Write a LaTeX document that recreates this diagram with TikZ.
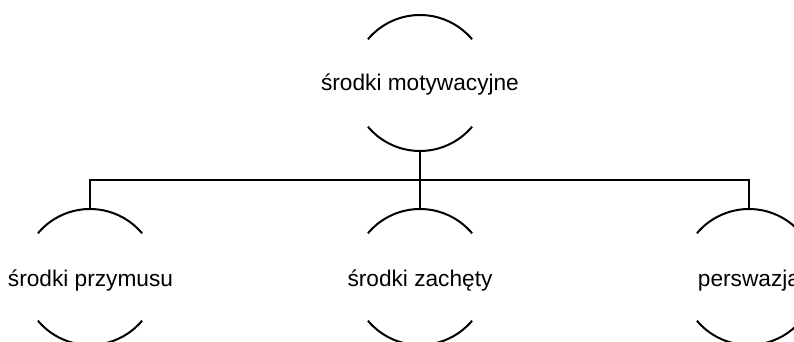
\documentclass[tikz,border=0pt]{standalone}
\usepackage{fontspec}
\setmainfont{Liberation Sans}
\begin{document}
\begin{tikzpicture}[x=0.75pt,y=-0.75pt,
  ring/.style={circle,draw=none,minimum size=102pt,inner sep=0pt,outer sep=0pt},
  lbl/.style={font=\fontsize{17}{20}\selectfont,inner sep=0pt,anchor=base},
  edge/.style={line width=1.5pt,black}]
\clip (0,0) rectangle (794,342);
\fill[white] (0,0) rectangle (794,342);
% circles (invisible nodes)
\node[ring] (c0) at (420,83) {};
\node[ring] (c1) at (90,277) {};
\node[ring] (c2) at (420,277) {};
\node[ring] (c3) at (749,277) {};
% labels
\node[lbl] (t0) at (420,91) {środki motywacyjne};
\node[lbl] (t1) at (90.5,286.5) {środki przymusu};
\node[lbl] (t2) at (420,286.5) {środki zachęty};
\node[lbl] (t3) at (749,286.5) {perswazja};
% arcs
\foreach \n in {c0,c1,c2,c3}{
  \draw[edge] (\n.140) arc[start angle=140,end angle=40,radius=51pt];
  \draw[edge] (\n.220) arc[start angle=220,end angle=320,radius=51pt];
}
% connectors
\coordinate (bus) at (0,180);
\draw[edge] (c0.south) -- (c2.north);
\draw[edge] (c1.north) -- (c1.north |- bus) -- (c3.north |- bus) -- (c3.north);
\end{tikzpicture}
\end{document}
